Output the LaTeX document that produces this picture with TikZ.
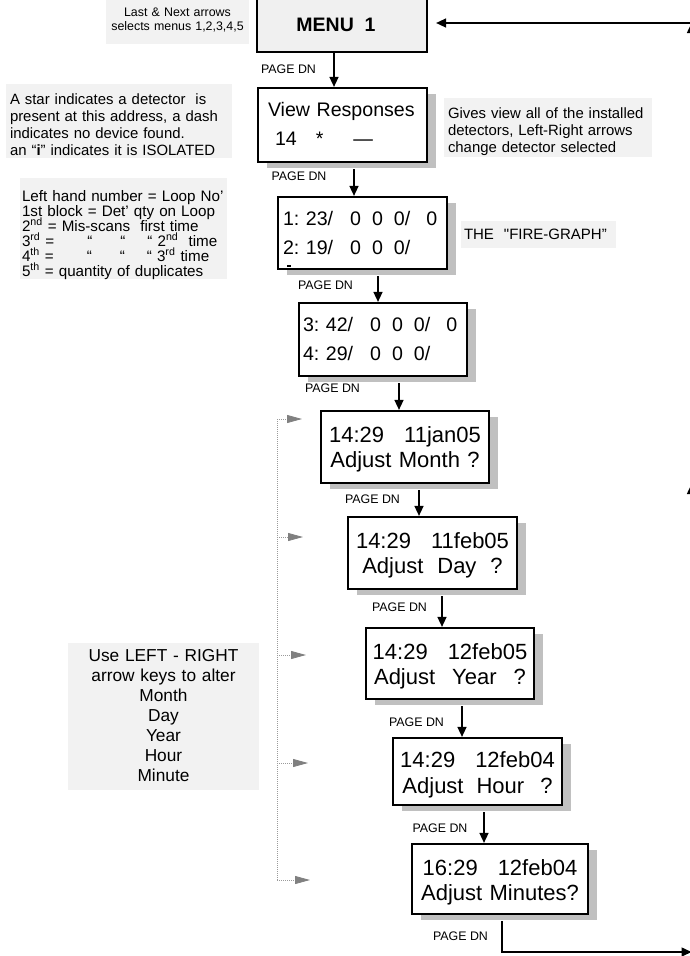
\documentclass[tikz,border=0pt]{standalone}
\usepackage{fontspec}
\setmainfont{Liberation Sans}
\newfontfamily\graphfont{Liberation Sans}[Ligatures=TeXOff]
\usetikzlibrary{arrows.meta,shadows,calc}
\frenchspacing

\definecolor{shadowgrey}{HTML}{C0C0C0}
\definecolor{notegrey}{HTML}{F2F2F2}
\definecolor{menugrey}{HTML}{F0F0F0}
\definecolor{dotgrey}{HTML}{9A9A9A}
\definecolor{arrgrey}{HTML}{808080}

\newcommand\menufont{\fontsize{19.5}{23}\selectfont\bfseries}
\newcommand\lcdfont{\fontsize{19.6}{29}\selectfont}
\newcommand\datefont{\fontsize{22}{25.7}\selectfont}
\newcommand\pgdnfont{\fontsize{12.4}{14}\selectfont}
\newcommand\notefont{\fontsize{14.9}{17.2}\selectfont}
\newcommand\loopfont{\fontsize{15.2}{15}\selectfont\lineskiplimit=-100pt\relax}
\newcommand\keyfont{\fontsize{17.3}{20}\selectfont}

\tikzset{
  screen/.style={draw, line width=2.2pt, fill=white, inner xsep=5pt, inner ysep=0pt, anchor=base,
    drop shadow={shadow xshift=9pt, shadow yshift=-6pt, fill=shadowgrey, opacity=1}},
  datebox/.style={screen, font=\datefont, align=center},
  note/.style={fill=notegrey, inner xsep=4pt, inner ysep=0pt, anchor=base},
  pagedn/.style={font=\pgdnfont, inner sep=0pt, anchor=base},
  arr/.style={line width=1.5pt, -{Triangle[length=10pt,width=9pt]}},
  dotline/.style={draw=dotgrey, line width=0.8pt, dash pattern=on 0.8pt off 1.2pt},
  dotarr/.style={dotline, -{Triangle[length=15pt,width=8pt,color=arrgrey]}}
}

\begin{document}
\begin{tikzpicture}[x=1pt, y=-1pt]
    \useasboundingbox (0,0) rectangle (690,956);
    \clip (0,0) rectangle (690,956);

    \node[draw, line width=2.2pt, fill=menugrey, font=\menufont, minimum width=170pt,
      text height=35pt, text depth=21pt, inner sep=0pt, anchor=base] (menu) at (342,31) {MENU\ \ 1\kern12pt};
    \node[screen, font=\lcdfont, text width=149pt, inner xsep=10pt, align=left,
      text height=28pt, text depth=46pt] (view) at (342.5,116)
      {View Responses\\\hspace*{7pt}14\hspace{19pt}*\hspace{30pt}—};
    \node[screen, font=\lcdfont, text width=159pt, align=left, text height=28pt, text depth=44pt] (fire1) at (362.5,225)
      {1: 23/\hspace{17pt}0\hspace{11pt}0\hspace{11pt}0/\hspace{16pt}0\\2: 19/\hspace{17pt}0\hspace{11pt}0\hspace{11pt}0/};
    \node[screen, font=\lcdfont, text width=160pt, inner xsep=4pt, align=left, text height=28pt, text depth=45pt] (fire2) at (383,331)
      {3: 42/\hspace{17pt}0\hspace{11pt}0\hspace{11pt}0/\hspace{16pt}0\\4: 29/\hspace{17pt}0\hspace{11pt}0\hspace{11pt}0/};
    \draw[line width=1.2pt] (287,266) -- (291,266);

    \node[datebox, text width=158pt, text height=31pt, text depth=41pt] (month) at (405,442)
      {14:29\hspace{20pt}11jan05\\Adjust Month ?};
    \node[datebox, text width=159pt, text height=31pt, text depth=41pt] (day) at (432.5,548)
      {14:29\hspace{20pt}11feb05\\Adjust\hspace{14pt}Day\hspace{14pt}?};
    \node[datebox, text width=158pt, text height=31pt, text depth=40pt] (year) at (450,659)
      {14:29\hspace{20pt}12feb05\\Adjust\hspace{17pt}Year\hspace{17pt}?};
    \node[datebox, text width=159pt, text height=29.4pt, text depth=37.6pt] (hour) at (477.5,767.4)
      {14:29\hspace{20pt}12feb04\\Adjust\hspace{13pt}Hour\hspace{16pt}?};
    \node[datebox, text width=166pt, text height=31pt, text depth=39pt] (minutes) at (500,875)
      {16:29\hspace{20pt}12feb04\\Adjust Minutes?};

    \node[note, font=\pgdnfont, text width=143pt, inner xsep=0pt, align=center,
      text height=22.5pt, text depth=27.5pt] (lastnext) at (177.5,16.5)
      {Last \& Next arrows\\selects menus 1,2,3,4,5};
    \node[note, font=\notefont, text width=218pt, align=left, text height=20pt, text depth=54pt] (star) at (119,104)
      {A star indicates a detector\ \ is\\present at this address, a dash\\indicates no device found.\\an “\textbf{i}” indicates it is ISOLATED};
    \node[note, font=\loopfont, text width=203pt, inner xsep=2pt, align=left, text height=23pt, text depth=78pt] (loop) at (123.5,201)
      {Left hand number = Loop No'\\
       1st block = Det' qty on Loop\\
       2\textsuperscript{nd} = Mis-scans\ \ first time\\
       3\textsuperscript{rd} =\hspace{33pt}“\hspace{28pt}“\hspace{22pt}“ 2\textsuperscript{nd}\ \ time\\
       4\textsuperscript{th} =\hspace{33pt}“\hspace{28pt}“\hspace{22pt}“ 3\textsuperscript{rd} time\\
       5\textsuperscript{th} = quantity of duplicates};
    \node[note, font=\notefont, text width=200pt, align=left, text height=20pt, text depth=39pt] (gives) at (548,118)
      {Gives view all of the installed\\detectors, Left-Right arrows\\change detector selected};
    \node[note, font=\graphfont\fontsize{15}{17}\selectfont, text width=149pt, inner xsep=3pt, align=left,
      text height=18pt, text depth=9pt] (graph) at (538.5,239) {THE\ \ "FIRE-GRAPH”};
    \node[note, font=\keyfont, text width=191pt, inner xsep=0pt, align=center, text height=18.7pt, text depth=128.3pt] (keys) at (163.5,661.7)
      {Use LEFT - RIGHT\\arrow keys to alter\\Month\\Day\\Year\\Hour\\Minute};

    \foreach \x/\y [count=\i] in {288.5/73.5, 299/180.5, 325.5/289.5, 332.5/392.5, 372.5/503.5,
      399.5/611.5, 416.5/726.5, 440/832.5, 460.5/940.5}
      \node[pagedn] (pgdn\i) at (\x,\y) {PAGE DN};

    \foreach \a/\b/\x/\s in {menu/view/334/0, view/fire1/354/6, fire1/fire2/378/6, fire2/month/399/6,
      month/day/419/6, day/year/442/6, year/hour/462/6, hour/minutes/484/6}{
      \path (\x,0) coordinate (ax);
      \draw[arr, shorten <=\s pt] (\a.south -| ax) -- (\b.north -| ax);
    }

    \coordinate (rb) at (691.5,952);
    \coordinate (rm) at (691.5,484);
    \coordinate (rt) at (691.5,23);
    \draw[arr, shorten <=6pt] ([xshift=2pt]minutes.south) |- (rb);
    \draw[arr] (rb) -- (rm);
    \draw[arr] (rm) -- (rt);
    \draw[arr, shorten >=8pt] (rt) -- (rt -| menu.east);

    \foreach \n/\y/\t in {mon/419/302, dy/537/303, yr/655/306, hr/763/308, mn/880/310}{
      \coordinate (sp-\n) at (277,\y);
      \coordinate (tip-\n) at (\t,\y);
      \draw[dotarr] (sp-\n) -- (tip-\n);
    }
    \draw[dotline] (sp-mon) -- (sp-mn);
\end{tikzpicture}
\end{document}
